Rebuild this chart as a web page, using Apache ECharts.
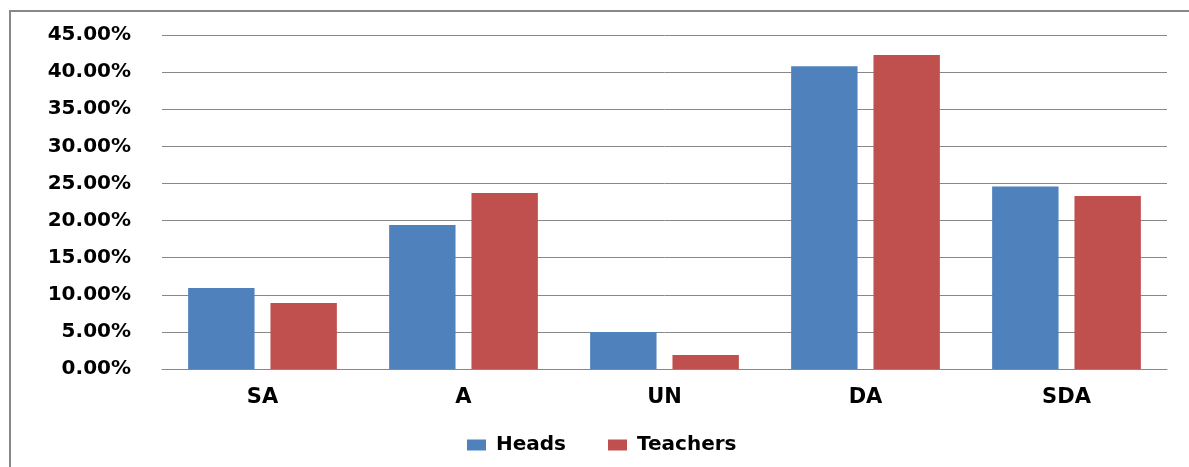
<!DOCTYPE html>
<html>
<head>
<meta charset="utf-8">
<script src="https://cdn.jsdelivr.net/npm/echarts@6/dist/echarts.min.js"></script>
<style>
html,body{margin:0;padding:0;background:#fff;}
#chart{width:1189px;height:467px;}
</style>
</head>
<body>
<div id="chart"></div>
<script>
const categories = ['SA', 'A', 'UN', 'DA', 'SDA'];
const heads = [10.9, 19.4, 5.0, 40.8, 24.6];
const teachers = [8.9, 23.7, 1.9, 42.3, 23.3];
const yTicks = { min: 0, max: 45, interval: 5 };

const chart = echarts.init(document.getElementById('chart'), null, { renderer: 'canvas' });
const font = '"DejaVu Sans", Verdana, sans-serif';
chart.setOption({
  animation: false,
  backgroundColor: '#ffffff',
  graphic: [{
    type: 'polyline',
    shape: { points: [[10, 470], [10, 11], [1192, 11]] },
    style: { stroke: '#888888', lineWidth: 2, fill: null }
  }],
  grid: { left: 162, right: 22, top: 35, bottom: 98, containLabel: false },
  legend: {
    left: 462, top: 430,
    itemWidth: 19, itemHeight: 11, itemGap: 42,
    icon: 'rect',
    textStyle: { fontFamily: font, fontWeight: 'bold', fontSize: 20, color: '#000', padding: [0, 0, 0, 5] },
    data: ['Heads', 'Teachers']
  },
  xAxis: {
    type: 'category',
    data: categories,
    axisTick: { show: false },
    axisLine: { lineStyle: { color: '#888888', width: 1 } },
    axisLabel: { margin: 18, fontFamily: font, fontWeight: 'bold', fontSize: 21, color: '#000' }
  },
  yAxis: {
    type: 'value',
    min: yTicks.min, max: yTicks.max, interval: yTicks.interval,
    axisLine: { show: false },
    axisTick: { show: false },
    splitLine: { lineStyle: { color: '#888888', width: 1 } },
    axisLabel: {
      margin: 31, fontFamily: font, fontWeight: 'bold', fontSize: 20, color: '#000',
      formatter: v => v.toFixed(2) + '%'
    }
  },
  series: [
    { name: 'Heads', type: 'bar', data: heads, itemStyle: { color: '#4F81BD' }, barGap: '24%', barCategoryGap: '26%' },
    { name: 'Teachers', type: 'bar', data: teachers, itemStyle: { color: '#C0504D' }, barGap: '24%', barCategoryGap: '26%' }
  ]
});
</script>
</body>
</html>
